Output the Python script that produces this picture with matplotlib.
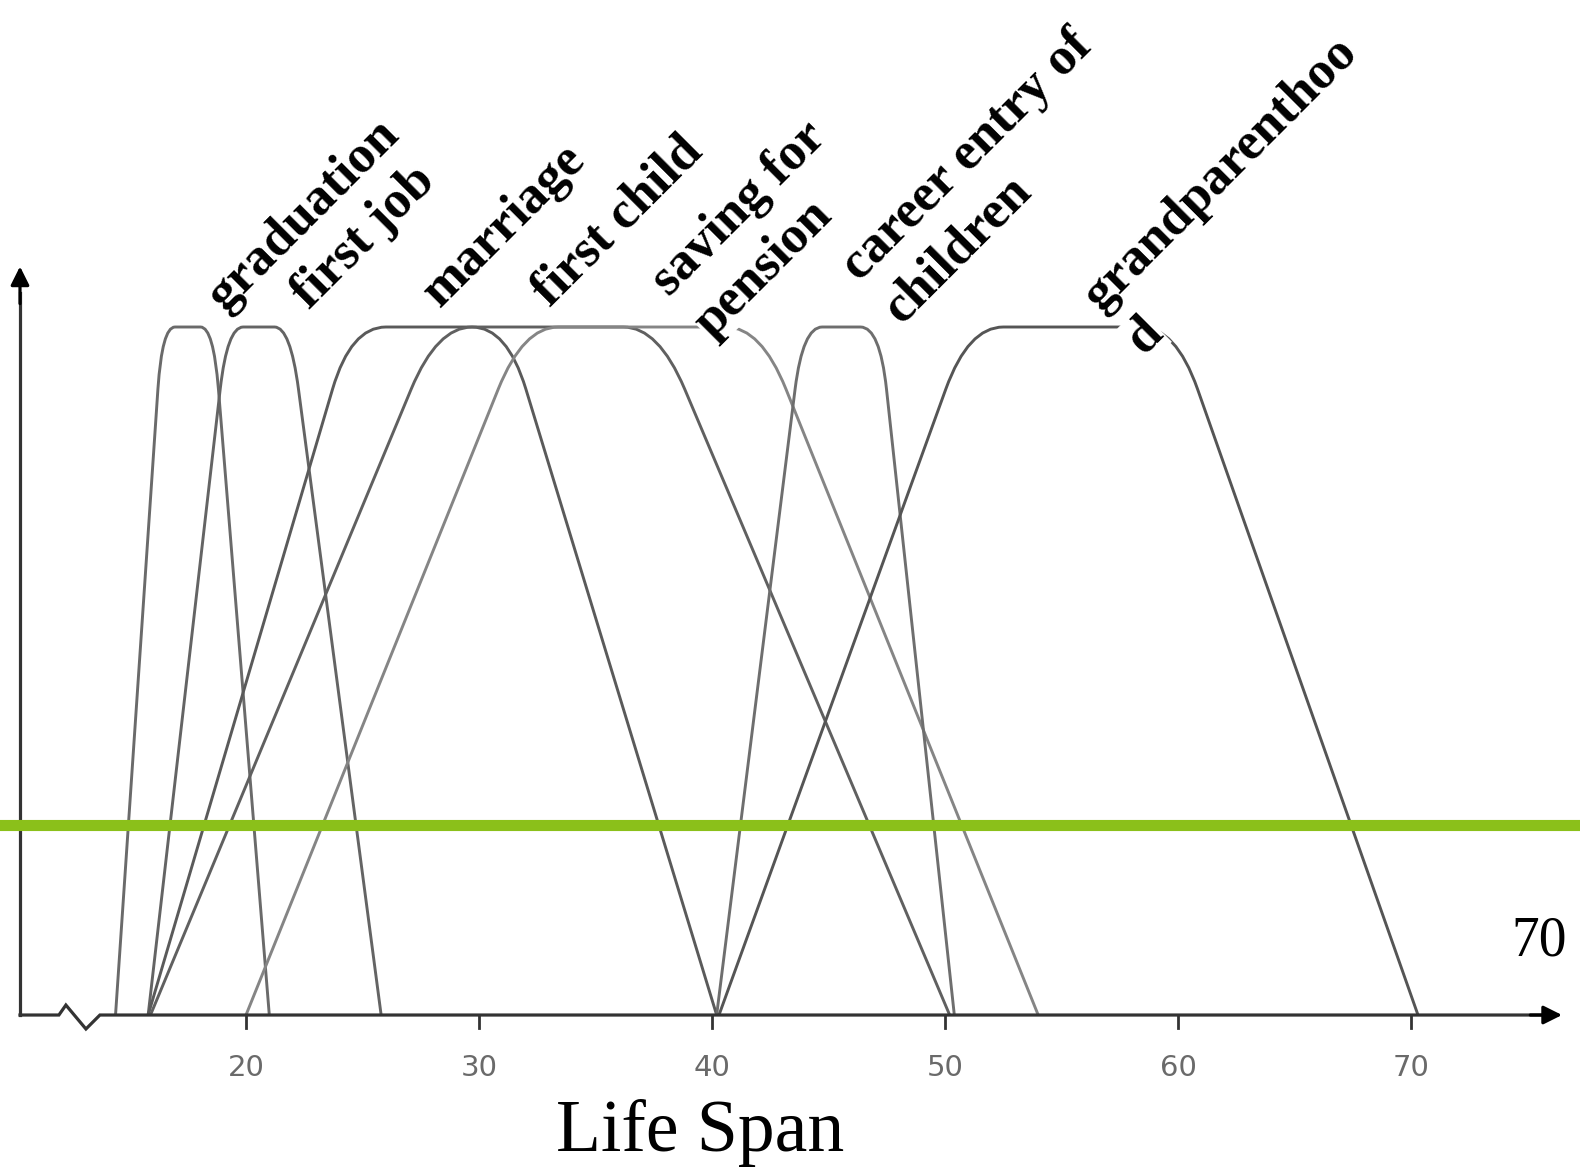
import matplotlib
matplotlib.use('Agg')
import matplotlib.pyplot as plt
from matplotlib.path import Path
from matplotlib.patches import PathPatch

# life events as fuzzy trapezoids (years): start, fully from, fully until, end
events = ['graduation', 'first job', 'marriage', 'first child',
          'saving for\npension', 'career entry of\nchildren', 'grandparenthoo\nd']
start = [14.4, 15.8, 15.8, 15.9, 20.0, 40.2, 40.3]
full_from = [16.4, 19.2, 24.5, 28.2, 31.9, 43.9, 51.0]
full_until = [18.6, 21.9, 31.2, 37.7, 42.1, 47.2, 59.9]
end = [21.0, 25.8, 40.2, 50.2, 54.0, 50.4, 70.3]
line_colors = ['#6a6a6a', '#646464', '#5a5a5a', '#606060', '#858585', '#6e6e6e', '#555555']

ticks = [20, 30, 40, 50, 60, 70]
threshold = 0.276

# where the rotated labels start (data coords)
label_x = [19.1, 22.7, 28.3, 33.05, 38.15, 46.3, 56.7]
label_y = [1.022, 1.024, 1.028, 1.028, 1.043, 1.065, 1.021]

serif = ['Liberation Serif', 'DejaVu Serif']


def trapezoid(a, b, c, d, k_edge=0.09, k_top=0.25):
    # corners a bit rounded, like the smoothed lines of the original
    top = min(k_top * (c - b), 1.5)
    verts = [(a, 0), (b - k_edge * (b - a), 1 - k_edge), (b, 1), (b + top, 1),
             (c - top, 1), (c, 1), (c + k_edge * (d - c), 1 - k_edge), (d, 0)]
    codes = [Path.MOVETO, Path.LINETO, Path.CURVE3, Path.CURVE3,
             Path.LINETO, Path.CURVE3, Path.CURVE3, Path.LINETO]
    return Path(verts, codes)


fig = plt.figure(figsize=(15.8, 11.67), dpi=100)
ax = fig.add_axes([0, 0, 1, 1])
ax.set_xlim(9.442, 77.253)
ax.set_ylim(-0.2209, 1.4753)
ax.axis('off')

for a, b, c, d, col in zip(start, full_from, full_until, end, line_colors):
    ax.add_patch(PathPatch(trapezoid(a, b, c, d), facecolor='none',
                           edgecolor=col, lw=2.1, zorder=2))

# axes drawn by hand (arrows + break on the x axis)
axis_col = '#333333'
ax.plot([10.30, 11.97, 12.27, 13.13, 13.73, 75.6], [0, 0, 0.0145, -0.0203, 0, 0],
        color=axis_col, lw=2.3, zorder=3, solid_joinstyle='miter')
ax.annotate('', xy=(76.6, 0), xytext=(75.0, 0),
            arrowprops=dict(arrowstyle='-|>', color='black', lw=2.3,
                            mutation_scale=28), zorder=3)
ax.plot([10.30, 10.30], [0, 1.05], color=axis_col, lw=2.3, zorder=3)
ax.annotate('', xy=(10.30, 1.092), xytext=(10.30, 1.03),
            arrowprops=dict(arrowstyle='-|>', color='black', lw=2.3,
                            mutation_scale=28), zorder=3)

for t in ticks:
    ax.plot([t, t], [0, -0.019], color=axis_col, lw=2.0, zorder=3)
    ax.text(t, -0.077, str(t), ha='center', va='center', fontsize=21,
            color='#6a6a6a', fontfamily='DejaVu Sans')

# threshold line
ax.axhline(threshold, color='#8bc01a', lw=8, zorder=5)

# labels at 45 degrees, following lines shifted down-right
step = 43  # points between lines
for lab, x, y in zip(events, label_x, label_y):
    for i, part in enumerate(lab.split('\n')):
        ax.annotate(part, xy=(x, y), xytext=(step * 0.7071 * i, -step * 0.7071 * i),
                    textcoords='offset points', rotation=45, rotation_mode='anchor',
                    ha='left', va='baseline', fontsize=38, fontweight='bold',
                    family=serif, zorder=4,
                    bbox=dict(facecolor='white', edgecolor='none', pad=0))

ax.text(39.5, -0.198, 'Life Span', ha='center', va='baseline', fontsize=53,
        family=serif, color='black')
ax.text(74.3, 0.086, '70', ha='left', va='baseline', fontsize=40,
        family=serif, color='black')

plt.savefig('out.png', dpi=100)
